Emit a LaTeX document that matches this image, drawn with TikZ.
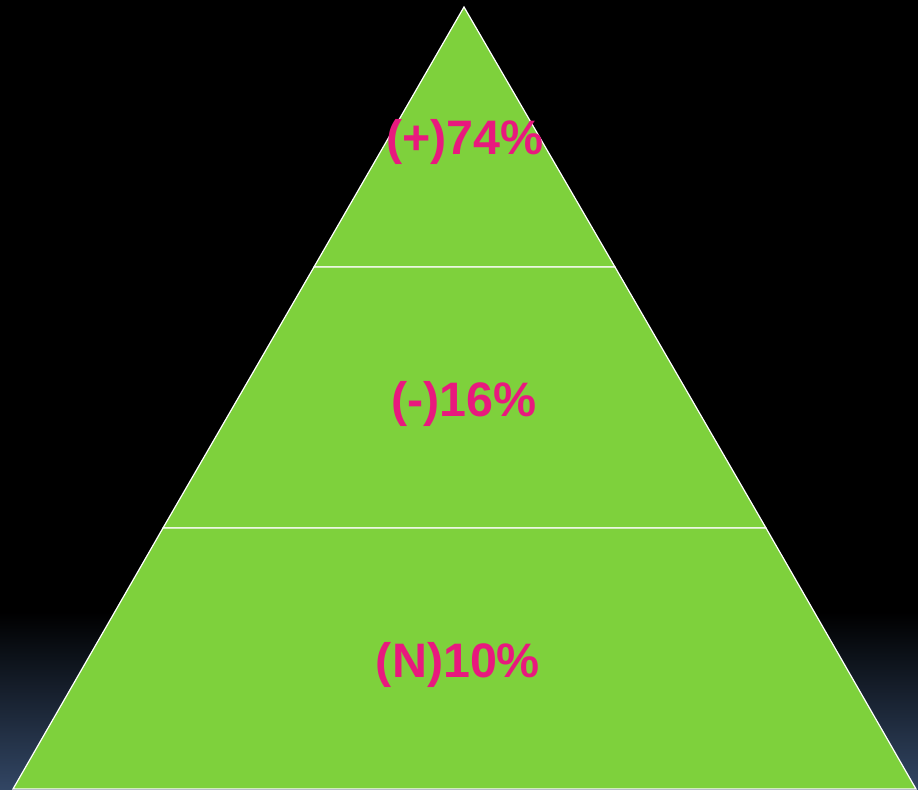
\documentclass[tikz,border=0pt]{standalone}
\usepackage{fontspec}
\setmainfont{Liberation Sans}
\usetikzlibrary{positioning}
\definecolor{grasgruen}{RGB}{126,209,60}
\definecolor{pinkrot}{RGB}{232,25,126}
\definecolor{nachtblau}{RGB}{50,70,100}

\begin{document}
\begin{tikzpicture}[x=0.5pt, y=-0.5pt,
      stufe/.style={fill=grasgruen, draw=white, line width=0.6pt},
      prozent/.style={text=pinkrot, font=\fontsize{24.2}{29}\selectfont\bfseries, inner sep=0pt}]

\useasboundingbox (0,0) rectangle (918,790);
\fill[black] (0,0) rectangle (918,790);
\shade[top color=black, bottom color=nachtblau] (0,612) rectangle (918,790);

\coordinate (spitze) at (464,7);
\coordinate (l1) at (314,267);
\coordinate (r1) at (615,267);
\coordinate (l2) at (163,528);
\coordinate (r2) at (766,528);
\coordinate (l3) at (13,789);
\coordinate (r3) at (916,789);

\fill[grasgruen] (spitze) -- (r3) -- (l3) -- cycle;
\draw[stufe] (spitze) -- (r1) -- (l1) -- cycle;
\draw[stufe] (l1) -- (r1) -- (r2) -- (l2) -- cycle;
\draw[stufe] (l2) -- (r2) -- (r3) -- (l3) -- cycle;

\node[prozent] (p1) at (465,142) {(+)74\%};
\node[prozent] (p2) at (464,404) {(-)16\%};
\node[prozent] (p3) at (458,665) {(N)10\%};

\end{tikzpicture}
\end{document}
